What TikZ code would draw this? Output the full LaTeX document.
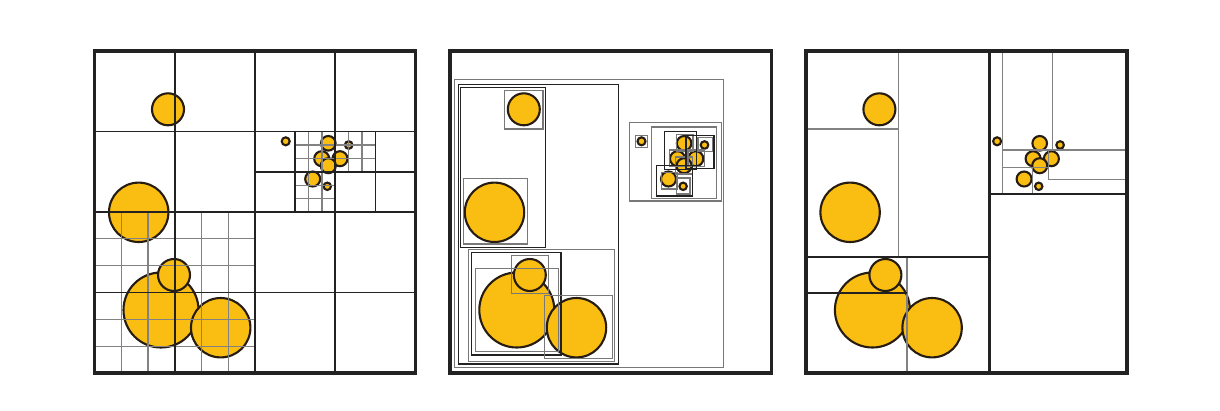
\documentclass[tikz,border=0pt]{standalone}
\usetikzlibrary{backgrounds}
\definecolor{dotfill}{RGB}{250,189,17}
\definecolor{dotline}{RGB}{38,28,18}
\definecolor{dark}{RGB}{34,34,34}
\definecolor{midgray}{RGB}{120,120,120}
\definecolor{lgray}{RGB}{130,130,130}
\tikzset{
  dot/.style={fill=dotfill,draw=dotline,line width=2.1pt},
  frame/.style={draw=dark,line width=3.8pt},
  blackline/.style={draw=dark,line width=1.7pt},
  thickline/.style={draw=dark,line width=3pt},
  grayline/.style={draw=lgray,line width=1.3pt},
  graybox/.style={draw=midgray,line width=1.3pt},
  blackbox/.style={draw=dark,line width=1.4pt},
}
\newcommand\drawdots{%
  \path[dot] (161,310) circle[radius=37.5];
  \path[dot] (174,275) circle[radius=16];
  \path[dot] (220.7,327.7) circle[radius=29.7];
  \path[dot] (168,109.3) circle[radius=16];
  \path[dot] (138.7,212.3) circle[radius=29.7];
  \path[dot] (285.7,141.3) circle[radius=4];
  \path[dot] (328.3,143.3) circle[radius=7.3];
  \path[dot] (348.7,145) circle[radius=3.8];
  \path[dot] (321.7,158.7) circle[radius=7.5];
  \path[dot] (340,158.7) circle[radius=7.5];
  \path[dot] (328.3,165.7) circle[radius=7.5];
  \path[dot] (312.7,179) circle[radius=7.5];
  \path[dot] (327.3,186.3) circle[radius=3.7];
}
\begin{document}
\begin{tikzpicture}[x=1pt,y=-1pt]
\useasboundingbox[fill=white] (0,0) rectangle (1220,410);

% ---------- panel 1: quadtree ----------
\begin{scope}
  \drawdots
  % fine gray grid, bottom-left quadrant
  \foreach \x in {121.25,148,201.5,228.25} \draw[grayline] (\x,212) -- (\x,373);
  \foreach \y in {238.8,265.7,319.3,346.2} \draw[grayline] (94.5,\y) -- (255,\y);
  % fine gray grid, cluster cells
  \foreach \x in {308.5,321.9,348.7,362.1} \draw[grayline] (\x,131.5) -- (\x,171.75);
  \foreach \y in {144.9,158.3} \draw[grayline] (295.1,\y) -- (375.4,\y);
  \foreach \x in {308.5,321.9} \draw[grayline] (\x,171.75) -- (\x,212);
  \foreach \y in {185.2,198.6} \draw[grayline] (295.1,\y) -- (335.25,\y);
  % black grid
  \foreach \x in {174.75,255,335.25} \draw[blackline] (\x,51) -- (\x,373);
  \foreach \y in {131.5,212,292.5} \draw[blackline] (94.5,\y) -- (415.5,\y);
  \foreach \x in {295.1,375.4} \draw[blackline] (\x,131.5) -- (\x,212);
  \draw[blackline] (255,171.75) -- (415.5,171.75);
  \draw[frame] (94.5,51) rectangle (415.5,373);
\end{scope}

% ---------- panel 2: R-tree ----------
\begin{scope}[xshift=355.8pt]
  \drawdots
\end{scope}
\draw[graybox] (454.5,79.7) rectangle (723.3,367.3);
\draw[blackbox] (458.3,84.3) rectangle (618.3,364);
\draw[blackbox] (460.3,87.3) rectangle (545.7,247.3);
\draw[graybox] (504.7,90.3) rectangle (543,129);
\draw[graybox] (463.3,178.3) rectangle (527.3,244);
\draw[graybox] (468.3,249.3) rectangle (614.3,361.5);
\draw[blackbox] (471.5,252.5) rectangle (561,355);
\draw[graybox] (475.5,268.3) rectangle (558.3,351.7);
\draw[graybox] (511.3,255.7) rectangle (548.3,293.3);
\draw[graybox] (544.3,295.7) rectangle (612.3,358.3);
% cluster
\draw[graybox] (629.5,122.5) rectangle (721.5,201);
\draw[graybox] (651.7,127) rectangle (716.5,198.5);
\draw[graybox] (635.5,135.3) rectangle (647.8,147.8);
\draw[graybox] (676.5,134.3) rectangle (693,151);
\draw[graybox] (698,137.7) rectangle (713,151.7);
\draw[graybox] (669.7,150) rectangle (685.3,166.7);
\draw[graybox] (688,150) rectangle (704.7,166.7);
\draw[graybox] (675.5,157) rectangle (692.5,174);
\draw[graybox] (661.3,172.3) rectangle (677.3,189);
\draw[graybox] (676.7,178) rectangle (690,194);
\draw[blackbox] (664.3,131.3) rectangle (696.5,169.7);
\draw[blackbox] (686,135.5) rectangle (714,168.5);
\draw[blackbox] (656.7,165.7) rectangle (692.5,196);
\draw[frame] (450.3,51) rectangle (771.5,373);

% ---------- panel 3: kd-tree ----------
\begin{scope}[xshift=711.4pt]
  \drawdots
\end{scope}
\draw[grayline] (898.7,51) -- (898.7,256.7);
\draw[grayline] (805.9,129) -- (898.7,129);
\draw[grayline] (907,256.7) -- (907,373);
\draw[blackline] (805.9,256.7) -- (989.3,256.7);
\draw[blackline] (805.9,293.3) -- (907,293.3);
\draw[grayline] (1002.7,51) -- (1002.7,193.7);
\draw[grayline] (1002.7,150) -- (1127,150);
\draw[grayline] (1052.7,51) -- (1052.7,150);
\draw[grayline] (1048.3,150) -- (1048.3,179.3);
\draw[grayline] (1048.3,179.3) -- (1127,179.3);
\draw[grayline] (1002.7,167.7) -- (1048.3,167.7);
\draw[grayline] (1032.3,167.7) -- (1032.3,193.7);
\draw[thickline] (989.3,51) -- (989.3,373);
\draw[draw=dark,line width=2.4pt] (989.3,193.7) -- (1127,193.7);
\draw[frame] (805.9,51) rectangle (1127,373);
\end{tikzpicture}
\end{document}
